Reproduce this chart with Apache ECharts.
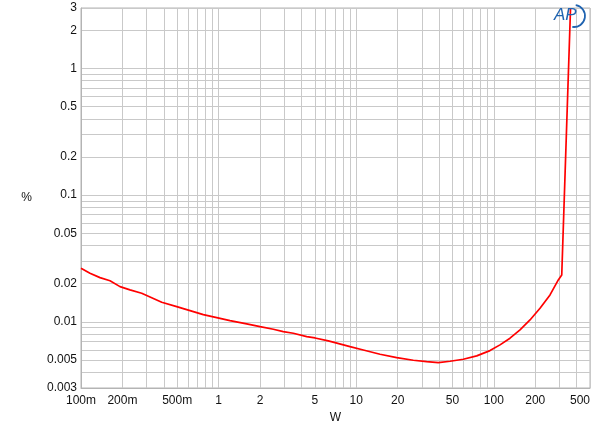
<!DOCTYPE html>
<html>
<head>
<meta charset="utf-8">
<script src="https://cdn.jsdelivr.net/npm/echarts@6/dist/echarts.min.js"></script>
<style>html,body{margin:0;padding:0;background:#fff}#c{width:600px;height:430px}</style>
</head>
<body>
<div id="c"></div>
<script>
// Data (power in W, THD+N in %)
const watts = [0.1, 0.1162, 0.1374, 0.1625, 0.192, 0.227, 0.276, 0.3265, 0.386, 0.496, 0.62, 0.774, 0.969, 1.21, 1.6, 2.0, 2.5, 2.95, 3.49, 4.37, 5.02, 6.27, 7.01, 9.01, 11.26, 14.9, 19.7, 26.0, 32.5, 39.5, 48.1, 60.0, 75.1, 93.8, 110.9, 131.1, 155, 183.2, 216.6, 256.1, 294.2, 311.6, 361];
const thd = [0.02645, 0.02415, 0.0223, 0.0211, 0.01894, 0.01784, 0.0168, 0.0155, 0.01427, 0.01317, 0.01225, 0.01138, 0.01078, 0.0102, 0.00962, 0.00915, 0.00873, 0.00836, 0.00812, 0.00763, 0.00745, 0.00706, 0.00684, 0.00637, 0.00599, 0.00554, 0.00521, 0.00497, 0.00485, 0.00476, 0.00488, 0.00506, 0.00538, 0.00592, 0.00657, 0.00742, 0.00862, 0.01034, 0.0128, 0.01628, 0.0214, 0.0234, 3.0];

const xTickLabels = [0.1, 0.2, 0.5, 1, 2, 5, 10, 20, 50, 100, 200, 500];
const yTickLabels = [0.003, 0.005, 0.01, 0.02, 0.05, 0.1, 0.2, 0.5, 1, 2, 3];
const xGrid = [0.1,0.2,0.3,0.4,0.5,0.6,0.7,0.8,0.9,1,2,3,4,5,6,7,8,9,10,20,30,40,50,60,70,80,90,100,200,300,400,500];
const yGrid = [0.003,0.004,0.005,0.006,0.007,0.008,0.009,0.01,0.02,0.03,0.04,0.05,0.06,0.07,0.08,0.09,0.1,0.2,0.3,0.4,0.5,0.6,0.7,0.8,0.9,1,2,3];

const font = '"Liberation Sans", Arial, sans-serif';
const fmt = v => String(Number(Number(v).toPrecision(6)));
const chart = echarts.init(document.getElementById('c'), null, {renderer: 'canvas'});
chart.setOption({
  animation: false,
  backgroundColor: '#fff',
  grid: {left: 81, right: 10, top: 8, bottom: 42, show: true, borderColor: '#b4b4b4', borderWidth: 1},
  xAxis: {
    type: 'log', min: 0.1, max: 500, logBase: 10,
    name: 'W', nameLocation: 'middle', nameGap: 24,
    nameTextStyle: {color: '#111', fontSize: 12, fontFamily: font},
    axisLine: {show: true, lineStyle: {color: '#b4b4b4'}},
    axisTick: {show: false, customValues: xGrid},
    axisLabel: {customValues: xTickLabels, color: '#111', fontSize: 12, fontFamily: font, margin: 7, alignMaxLabel: 'right',
      formatter: v => { const n = Number(Number(v).toPrecision(6)); return n < 1 ? Math.round(n * 1000) + 'm' : String(n); }},
    splitLine: {show: true, lineStyle: {color: '#c9c9c9', width: 1}}
  },
  yAxis: {
    type: 'log', min: 0.003, max: 3, logBase: 10,
    name: '%', nameLocation: 'middle', nameGap: 49, nameRotate: 0,
    nameTextStyle: {color: '#111', fontSize: 12, fontFamily: font},
    axisLine: {show: true, lineStyle: {color: '#b4b4b4'}},
    axisTick: {show: false, customValues: yGrid},
    axisLabel: {customValues: yTickLabels, color: '#111', fontSize: 12, fontFamily: font, margin: 4, formatter: fmt},
    splitLine: {show: true, lineStyle: {color: '#c9c9c9', width: 1}}
  },
  graphic: [{
    type: 'text', left: 554, top: 7, z: 10,
    style: {text: 'AP', fill: '#1f63b0', font: 'italic 17px "Liberation Sans", Arial, sans-serif'}
  }, {
    type: 'arc', z: 10,
    shape: {cx: 574, cy: 16, r: 11, startAngle: -Math.PI * 0.45, endAngle: Math.PI * 0.55},
    style: {stroke: '#1f63b0', lineWidth: 1.8, fill: null}
  }],
  series: [{
    type: 'line', data: watts.map((w, i) => [w, thd[i]]),
    showSymbol: false, clip: true,
    lineStyle: {color: '#ff0000', width: 1.7},
    z: 5
  }]
});
</script>
</body>
</html>
